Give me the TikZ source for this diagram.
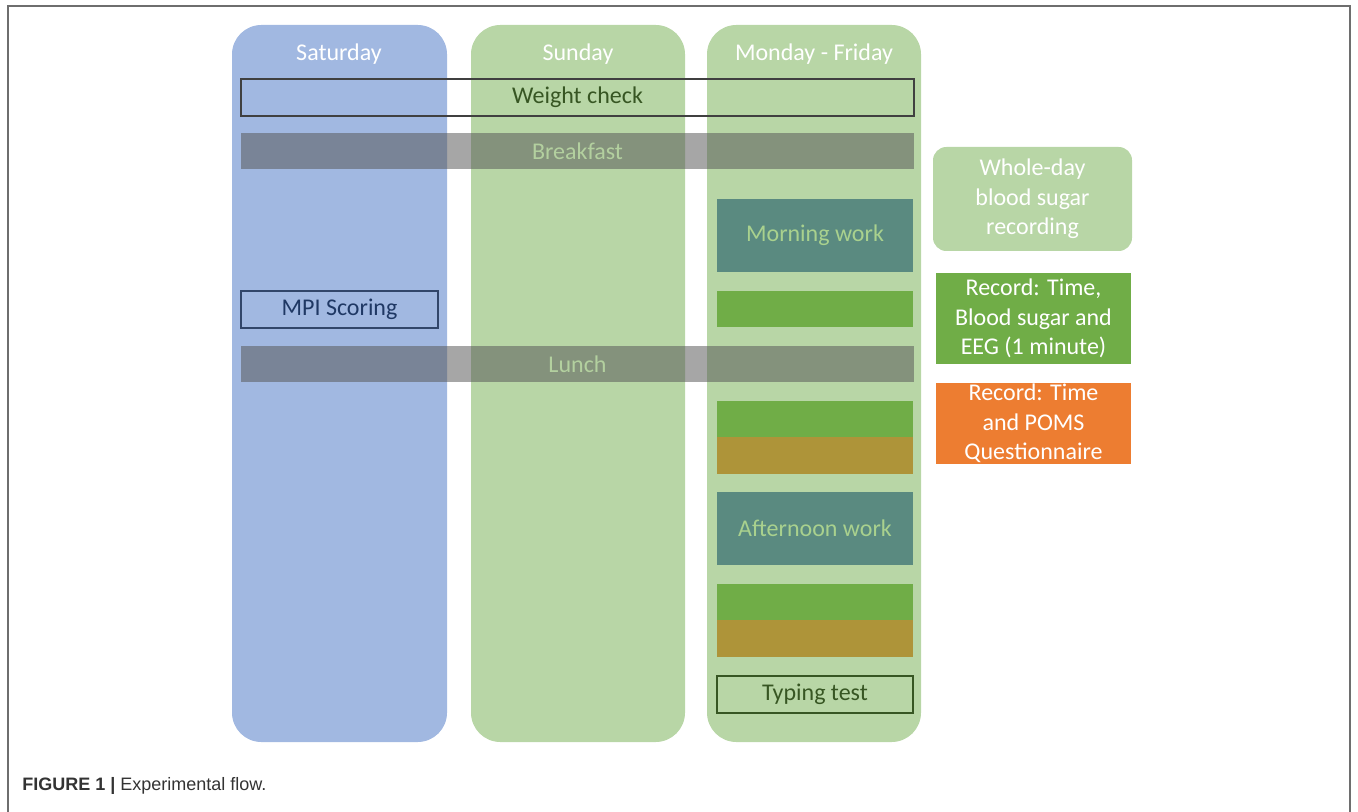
\documentclass[tikz,border=0pt]{standalone}
\usepackage{fontspec}
\setmainfont{Carlito}
\newfontfamily\capfont{Liberation Sans}
\usetikzlibrary{fit}
\definecolor{cSat}{HTML}{A1B8E1}
\definecolor{cSun}{HTML}{B8D6A6}
\definecolor{cShade}{HTML}{575757}
\definecolor{cPale}{HTML}{B3D09F}
\definecolor{cTeal}{HTML}{5A8A80}
\definecolor{cRec}{HTML}{70AD47}
\definecolor{cOlive}{HTML}{AE9439}
\definecolor{cPoms}{HTML}{ED7D31}
\definecolor{cDkGreen}{HTML}{375623}
\definecolor{cNavy}{HTML}{1F3864}
\definecolor{cEdge}{HTML}{404040}
\definecolor{cLight}{HTML}{A9D18E}
\definecolor{cFrame}{HTML}{6E6E6E}
\definecolor{cCap}{HTML}{333333}

\begin{document}
\begin{tikzpicture}[
  x=0.75pt, y=-0.75pt,
  day/.style={rounded corners=22pt, inner sep=0pt},
  bar/.style={inner sep=0pt, fill=cShade, fill opacity=0.53},
  outline/.style={draw=cEdge, inner sep=0pt, line width=1pt},
  slot/.style={inner sep=0pt},
  txt/.style={font=\fontsize{18}{22.2}\selectfont, align=center, inner sep=0pt},
  head/.style={txt, text=white},
  keybox/.style={inner sep=0pt},
]
\useasboundingbox (0,0) rectangle (1358,812);
\draw[cFrame, line width=1.5pt] (8,812) -- (8,6) -- (1350,6) -- (1350,812);

% ---- day columns
\node[day, fill=cSat, fit={(232,25) (447,742)}] (sat) {};
\node[day, fill=cSun, fit={(471,25) (685,742)}] (sun) {};
\node[day, fill=cSun, fit={(707,25) (921,742)}] (week) {};
\node[head] (satT) at (339,54) {Saturday};
\node[head] (sunT) at (578,54) {Sunday};
\node[head] (weekT) at (814,54) {Monday - Friday};

% ---- rows across all days
\node[outline, fit={(241,79) (914,116)}] (weigh) {};
\node[txt, text=cDkGreen] (weighT) at (weigh.center) {Weight check};
\node[bar, fit={(241,133) (914,169)}] (bfast) {};
\node[txt, text=cPale] (bfastT) at (bfast.center) {Breakfast};
\node[outline, draw=cNavy!80!gray, fit={(241,291) (438,328)}] (mpi) {};
\node[txt, text=cNavy] (mpiT) at (mpi.center) {MPI Scoring};
\node[bar, fit={(241,346) (914,382)}] (lunch) {};
\node[txt, text=cPale] (lunchT) at (lunch.center) {Lunch};

% ---- working days
\node[slot, fill=cTeal, fit={(717,199) (913,272)}] (morn) {};
\node[txt, text=cLight] (mornT) at (morn.center) {Morning work};
\node[slot, fill=cRec, fit={(717,291) (913,327)}] (rec1) {};
\node[slot, fill=cRec, fit={(717,401) (913,437)}] (rec2) {};
\node[slot, fill=cOlive, fit={(717,437) (913,474)}] (poms1) {};
\node[slot, fill=cTeal, fit={(717,492) (913,565)}] (aft) {};
\node[txt, text=cLight] (aftT) at (aft.center) {Afternoon work};
\node[slot, fill=cRec, fit={(717,584) (913,620)}] (rec3) {};
\node[slot, fill=cOlive, fit={(717,620) (913,657)}] (poms2) {};
\node[outline, draw=cDkGreen, fit={(717,676) (913,713)}] (typing) {};
\node[txt, text=cDkGreen] (typingT) at (typing.center) {Typing test};

% ---- key
\node[keybox, fill=cSun, rounded corners=10pt, fit={(933,147) (1132,251)}] (sugar) {};
\node[head] (sugarT) at (sugar.center) {Whole-day\\blood sugar\\recording};
\node[keybox, fill=cRec, fit={(936,273) (1131,364)}] (recKey) {};
\node[head] (recKeyT) at (recKey.center) {Record: Time,\\Blood sugar and\\EEG (1 minute)};
\node[keybox, fill=cPoms, fit={(936,383) (1131,464)}] (pomsKey) {};
\node[head] (pomsKeyT) at (pomsKey.center) {Record: Time\\and POMS\\Questionnaire};

\node[anchor=west, inner sep=0pt, text=cCap, font=\capfont\fontsize{13.5}{16}\selectfont] (cap) at (22,786)
  {\textbf{FIGURE 1 |} Experimental flow.};
\end{tikzpicture}
\end{document}
